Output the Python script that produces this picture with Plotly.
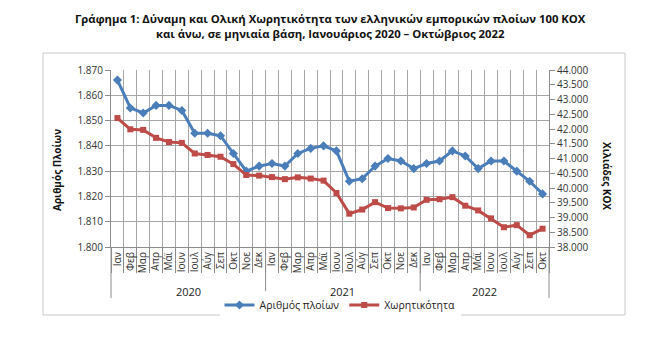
import plotly.graph_objects as go

# Monthly series, January 2020 - October 2022
months = ["Ιαν", "Φεβ", "Μαρ", "Απρ", "Μάϊ", "Ιουν", "Ιουλ", "Αύγ", "Σεπ", "Οκτ", "Νοε", "Δεκ"] * 2 + \
         ["Ιαν", "Φεβ", "Μαρ", "Απρ", "Μάϊ", "Ιουν", "Ιουλ", "Αύγ", "Σεπ", "Οκτ"]
years = ["2020", "2021", "2022"]
year_months = [12, 12, 10]

# Number of ships (left axis)
ships = [1866, 1855, 1853, 1856, 1856, 1854, 1845, 1845, 1844, 1837, 1830, 1832,
         1833, 1832, 1837, 1839, 1840, 1838, 1826, 1827, 1832, 1835, 1834, 1831,
         1833, 1834, 1838, 1836, 1831, 1834, 1834, 1830, 1826, 1821]

# Gross tonnage, thousand GT (right axis)
tonnage = [42370, 41990, 41970, 41700, 41560, 41530, 41170, 41120, 41060, 40810, 40440, 40420,
           40370, 40300, 40360, 40320, 40250, 39830, 39130, 39270, 39520, 39320, 39310, 39340,
           39600, 39620, 39690, 39400, 39240, 38970, 38670, 38740, 38400, 38620]

idx = list(range(len(months)))
n = len(months)

FONT = "Open Sans"
GRID = "#a6a6a6"
AXIS = "#8c8c8c"
BLUE = "#4a7ebb"
RED = "#be4b48"

fig = go.Figure()
fig.add_trace(go.Scatter(
    x=idx, y=ships, name="Αριθμός πλοίων", mode="lines+markers",
    line=dict(color=BLUE, width=3), marker=dict(symbol="diamond", size=7, color=BLUE),
    yaxis="y"))
fig.add_trace(go.Scatter(
    x=idx, y=tonnage, name="Χωρητικότητα", mode="lines+markers",
    line=dict(color=RED, width=3), marker=dict(symbol="square", size=6, color=RED),
    yaxis="y2"))

L, R, T, B = 111, 113, 70, 103
W, H = 662, 350
pw = W - L - R
ph = H - T - B


def px_x(px):
    return (px - L) / pw


def px_y(py):
    return (H - B - py) / ph


def idx_x(v):
    return (v + 0.5) / n


shapes = []
# year separators below the category axis
bounds = [0]
for c in year_months:
    bounds.append(bounds[-1] + c)
for b in bounds:
    shapes.append(dict(type="line", xref="paper", yref="paper",
                       x0=b / n, x1=b / n, y0=0, y1=px_y(298),
                       line=dict(color=AXIS, width=1)))
# outer chart frame
shapes.append(dict(type="rect", xref="paper", yref="paper",
                   x0=px_x(43), x1=px_x(625), y0=px_y(315), y1=px_y(53),
                   line=dict(color="#c8c8c8", width=1), layer="below"))

annotations = []
start = 0
for yr, c in zip(years, year_months):
    annotations.append(dict(text=yr, xref="paper", yref="paper",
                            x=idx_x(start + (c - 1) / 2), y=px_y(291),
                            xanchor="center", yanchor="middle",
                            showarrow=False, font=dict(family=FONT, size=11, color="#222")))
    start += c
annotations.append(dict(text="<b>Αριθμός Πλοίων</b>", xref="paper", yref="paper",
                        x=px_x(57), y=px_y(170), textangle=-90, showarrow=False,
                        xanchor="center", yanchor="middle",
                        font=dict(family=FONT, size=10, color="#111")))
annotations.append(dict(text="<b>Χιλιάδες ΚΟΧ</b>", xref="paper", yref="paper",
                        x=px_x(607), y=px_y(176), textangle=90, showarrow=False,
                        xanchor="center", yanchor="middle",
                        font=dict(family=FONT, size=10, color="#111")))
annotations.append(dict(
    text="<b>Γράφημα 1: Δύναμη και Ολική Χωρητικότητα των ελληνικών εμπορικών πλοίων 100 ΚΟΧ</b><br>"
         "<b>και άνω, σε μηνιαία βάση, Ιανουάριος 2020 – Οκτώβριος 2022</b>",
    xref="paper", yref="paper", x=px_x(330), y=px_y(26), showarrow=False,
    xanchor="center", yanchor="middle",
    font=dict(family=FONT, size=11.3, color="#111")))

fig.update_layout(
    width=W, height=H, margin=dict(l=L, r=R, t=T, b=B),
    paper_bgcolor="white", plot_bgcolor="white",
    separators=",.",
    font=dict(family=FONT, size=10, color="#333"),
    showlegend=True,
    legend=dict(orientation="h", x=px_x(340), xanchor="center", y=px_y(305), yanchor="middle",
                font=dict(family=FONT, size=10.5, color="#222"), itemwidth=30,
                tracegroupgap=0),
    xaxis=dict(range=[-0.5, n - 0.5], tickmode="array", tickvals=idx, ticktext=months,
               tickangle=-90, ticks="", showgrid=False, zeroline=False,
               showline=True, linecolor=AXIS, linewidth=1,
               tickfont=dict(family=FONT, size=10, color="#333"),
               minor=dict(tickmode="linear", tick0=-0.5, dtick=1, ticks="outside",
                          ticklen=25, tickcolor=AXIS, showgrid=True, gridcolor=GRID,
                          gridwidth=1)),
    yaxis=dict(range=[1800, 1870], dtick=10, tickformat=",d", ticks="outside", ticklen=5,
               tickcolor=AXIS, showline=True, linecolor=AXIS, showgrid=True,
               gridcolor=GRID, gridwidth=1, zeroline=False,
               tickfont=dict(family=FONT, size=10, color="#333")),
    yaxis2=dict(range=[38000, 44000], dtick=500, tickformat=",d", overlaying="y",
                side="right", ticks="outside", ticklen=5, tickcolor=AXIS,
                showline=True, linecolor=AXIS, showgrid=False, zeroline=False,
                tickfont=dict(family=FONT, size=10, color="#333")),
    shapes=shapes, annotations=annotations,
)

fig.write_html("out.html")
